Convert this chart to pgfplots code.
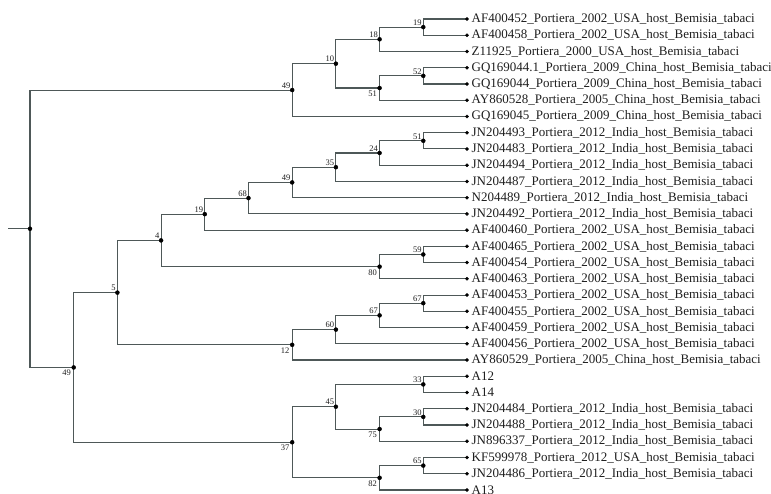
\documentclass[border=0pt]{standalone}
\usepackage{fontspec}
\setmainfont{Liberation Serif}
\usepackage{pgfplots}
\pgfplotsset{compat=1.18}
\definecolor{branch}{RGB}{78,88,88}
\definecolor{labeltext}{RGB}{30,30,30}

\begin{document}
\begin{tikzpicture}
\begin{axis}[
  width=771pt, height=493pt, scale only axis,
  xmin=-0.6865, xmax=16.957,
  ymin=-0.170, ymax=30.187, y dir=reverse,
  hide axis, clip=false,
]
\path (rel axis cs:0,0) coordinate (bba) (rel axis cs:1,1) coordinate (bbb);

% branches: x = depth level, y = leaf row; one elbow per internal node
\addplot[branch, line width=1.1pt, unbounded coords=jump] table {
x y
-0.5 13.915
0 13.915
nan nan
10 1
9 1
9 2
10 2
nan nan
10 3
8 3
8 1.5
9 1.5
nan nan
10 4
9 4
9 5
10 5
nan nan
9 4.5
8 4.5
8 6
10 6
nan nan
8 2.25
7 2.25
7 5.25
8 5.25
nan nan
7 3.75
6 3.75
6 7
10 7
nan nan
10 8
9 8
9 9
10 9
nan nan
9 8.5
8 8.5
8 10
10 10
nan nan
8 9.25
7 9.25
7 11
10 11
nan nan
7 10.125
6 10.125
6 12
10 12
nan nan
6 11.0625
5 11.0625
5 13
10 13
nan nan
5 12.03
4 12.03
4 14
10 14
nan nan
10 15
9 15
9 16
10 16
nan nan
9 15.5
8 15.5
8 17
10 17
nan nan
4 13.016
3 13.016
3 16.25
8 16.25
nan nan
10 18
9 18
9 19
10 19
nan nan
9 18.5
8 18.5
8 20
10 20
nan nan
8 19.25
7 19.25
7 21
10 21
nan nan
7 20.125
6 20.125
6 22
10 22
nan nan
3 14.633
2 14.633
2 21.0625
6 21.0625
nan nan
10 23
9 23
9 24
10 24
nan nan
10 25
9 25
9 26
10 26
nan nan
9 25.5
8 25.5
8 27
10 27
nan nan
9 23.5
7 23.5
7 26.25
8 26.25
nan nan
10 28
9 28
9 29
10 29
nan nan
9 28.5
8 28.5
8 30
10 30
nan nan
7 24.875
6 24.875
6 29.25
8 29.25
nan nan
2 17.848
1 17.848
1 27.0625
6 27.0625
nan nan
6 5.375
0 5.375
0 22.455
1 22.455
};

% leaves
\addplot[only marks, mark=*, mark size=1.6pt, black,
  nodes near coords, point meta=explicit symbolic,
  every node near coord/.append style={anchor=west, inner sep=0pt, xshift=4.5pt,
    text=labeltext, font=\fontsize{13}{14}\selectfont}]
coordinates {
(10,1) [AF400452\_Portiera\_2002\_USA\_host\_Bemisia\_tabaci]
(10,2) [AF400458\_Portiera\_2002\_USA\_host\_Bemisia\_tabaci]
(10,3) [Z11925\_Portiera\_2000\_USA\_host\_Bemisia\_tabaci]
(10,4) [GQ169044.1\_Portiera\_2009\_China\_host\_Bemisia\_tabaci]
(10,5) [GQ169044\_Portiera\_2009\_China\_host\_Bemisia\_tabaci]
(10,6) [AY860528\_Portiera\_2005\_China\_host\_Bemisia\_tabaci]
(10,7) [GQ169045\_Portiera\_2009\_China\_host\_Bemisia\_tabaci]
(10,8) [JN204493\_Portiera\_2012\_India\_host\_Bemisia\_tabaci]
(10,9) [JN204483\_Portiera\_2012\_India\_host\_Bemisia\_tabaci]
(10,10) [JN204494\_Portiera\_2012\_India\_host\_Bemisia\_tabaci]
(10,11) [JN204487\_Portiera\_2012\_India\_host\_Bemisia\_tabaci]
(10,12) [N204489\_Portiera\_2012\_India\_host\_Bemisia\_tabaci]
(10,13) [JN204492\_Portiera\_2012\_India\_host\_Bemisia\_tabaci]
(10,14) [AF400460\_Portiera\_2002\_USA\_host\_Bemisia\_tabaci]
(10,15) [AF400465\_Portiera\_2002\_USA\_host\_Bemisia\_tabaci]
(10,16) [AF400454\_Portiera\_2002\_USA\_host\_Bemisia\_tabaci]
(10,17) [AF400463\_Portiera\_2002\_USA\_host\_Bemisia\_tabaci]
(10,18) [AF400453\_Portiera\_2002\_USA\_host\_Bemisia\_tabaci]
(10,19) [AF400455\_Portiera\_2002\_USA\_host\_Bemisia\_tabaci]
(10,20) [AF400459\_Portiera\_2002\_USA\_host\_Bemisia\_tabaci]
(10,21) [AF400456\_Portiera\_2002\_USA\_host\_Bemisia\_tabaci]
(10,22) [AY860529\_Portiera\_2005\_China\_host\_Bemisia\_tabaci]
(10,23) [A12]
(10,24) [A14]
(10,25) [JN204484\_Portiera\_2012\_India\_host\_Bemisia\_tabaci]
(10,26) [JN204488\_Portiera\_2012\_India\_host\_Bemisia\_tabaci]
(10,27) [JN896337\_Portiera\_2012\_India\_host\_Bemisia\_tabaci]
(10,28) [KF599978\_Portiera\_2012\_USA\_host\_Bemisia\_tabaci]
(10,29) [JN204486\_Portiera\_2012\_India\_host\_Bemisia\_tabaci]
(10,30) [A13]
};

% bootstrap values on upper children (label above left)
\addplot[only marks, mark=*, mark size=2pt, black,
  nodes near coords, point meta=explicit symbolic,
  every node near coord/.append style={anchor=south east, inner sep=0pt,
    xshift=-1.5pt, yshift=1.5pt, text=labeltext, font=\fontsize{8.5}{9}\selectfont}]
coordinates {
(9,1.5) [19]
(8,2.25) [18]
(7,3.75) [10]
(9,4.5) [52]
(6,5.375) [49]
(9,8.5) [51]
(8,9.25) [24]
(7,10.125) [35]
(6,11.0625) [49]
(5,12.03) [68]
(4,13.016) [19]
(3,14.633) [4]
(9,15.5) [59]
(9,18.5) [67]
(8,19.25) [67]
(7,20.125) [60]
(2,17.848) [5]
(9,23.5) [33]
(7,24.875) [45]
(9,25.5) [30]
(9,28.5) [65]
};

% bootstrap values on lower children (label below left)
\addplot[only marks, mark=*, mark size=2pt, black,
  nodes near coords, point meta=explicit symbolic,
  every node near coord/.append style={anchor=north east, inner sep=0pt,
    xshift=-2.5pt, yshift=-2.5pt, text=labeltext, font=\fontsize{8.5}{9}\selectfont}]
coordinates {
(8,5.25) [51]
(8,16.25) [80]
(6,21.0625) [12]
(1,22.455) [49]
(8,26.25) [75]
(6,27.0625) [37]
(8,29.25) [82]
};

% root
\addplot[only marks, mark=*, mark size=2pt, black] coordinates {(0,13.915)};
\end{axis}
\pgfresetboundingbox
\useasboundingbox (bba) rectangle (bbb);
\end{tikzpicture}
\end{document}
